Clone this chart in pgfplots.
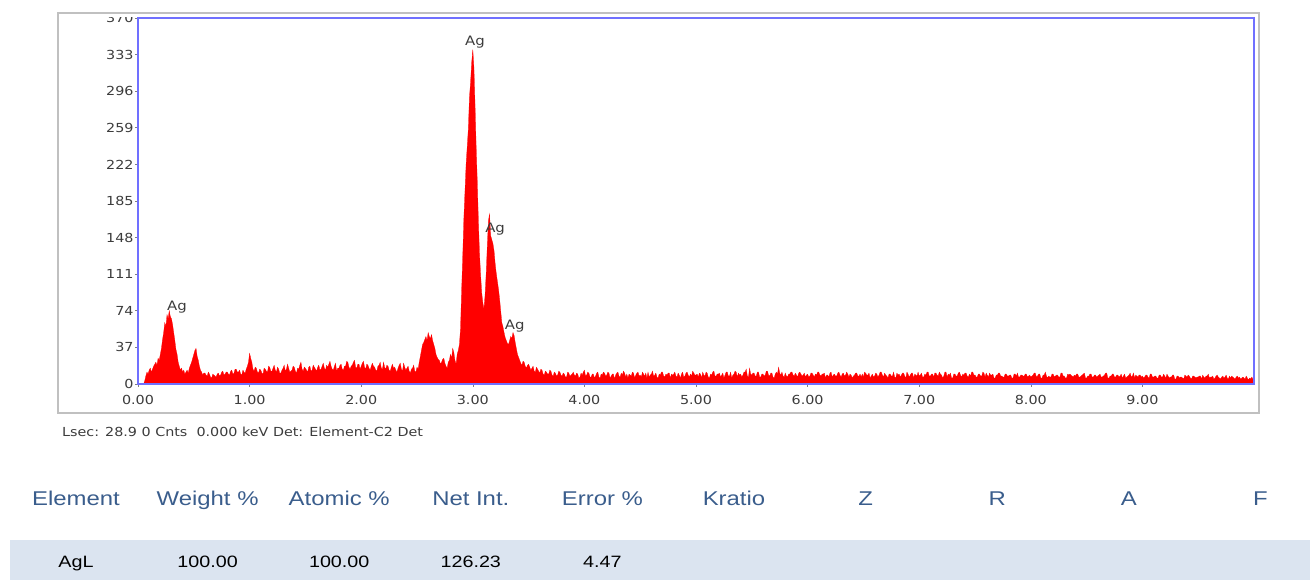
\documentclass[border=0pt]{standalone}
\usepackage{pgfplots}
\pgfplotsset{compat=1.18}
\usepackage{fontspec}
\setmainfont{DejaVu Sans}
\newfontfamily\chartfont[FakeStretch=1.15]{DejaVu Sans}
\newfontfamily\tablefont[FakeStretch=1.2]{Liberation Sans}
\definecolor{axisblue}{RGB}{112,112,255}
\definecolor{framegray}{RGB}{192,192,192}
\definecolor{ticktext}{RGB}{60,60,60}
\definecolor{headblue}{RGB}{58,93,140}
\definecolor{rowband}{RGB}{219,228,240}
\begin{document}
\begin{tikzpicture}[x=1bp,y=1bp]
\useasboundingbox (0,0) rectangle (1310,580);
% band behind the result row
\fill[rowband] (10,0) rectangle (1310,40);
\begin{axis}[
  at={(138bp,196bp)}, anchor=south west,
  scale only axis, width=1116bp, height=366bp,
  xmin=0, xmax=10, ymin=0, ymax=370,
  axis on top,
  axis line style={draw=axisblue, line width=1.6bp},
  tick pos=left, tick align=outside, major tick length=3bp,
  tick style={draw=gray, line width=0.6bp},
  xtick={0,1,2,3,4,5,6,7,8,9},
  xticklabels={0.00,1.00,2.00,3.00,4.00,5.00,6.00,7.00,8.00,9.00},
  ytick={0,37,74,111,148,185,222,259,296,333,370},
  yticklabels={0,37,74,111,148,185,222,259,296,333,370},
  ticklabel style={font=\chartfont\fontsize{12.5}{14}\selectfont, text=ticktext},
  x tick label style={yshift=-5bp},
  y tick label style={xshift=2bp},
]
% EDS spectrum, 0.01 keV per channel, from 0.00 to 10.00 keV
\addplot[draw=red, fill=red, line width=0.25bp]
  table[row sep=\\, x expr=\coordindex*0.01, y index=0] {
  counts\\
  0\\0\\0\\0\\0\\0\\3\\8\\12\\10\\ 14\\16\\12\\15\\18\\20\\22\\19\\26\\24\\
  30\\36\\45\\52\\62\\58\\70\\66\\74\\68\\ 66\\60\\52\\44\\35\\30\\22\\18\\14\\16\\
  12\\14\\10\\12\\14\\11\\16\\19\\22\\26\\ 30\\34\\36\\28\\24\\18\\14\\12\\9\\11\\
  11\\9\\8\\12\\10\\7\\6\\10\\9\\8\\ 7\\10\\11\\8\\9\\12\\13\\9\\10\\12\\
  12\\10\\9\\13\\14\\10\\11\\15\\15\\12\\ 12\\14\\10\\9\\14\\12\\11\\15\\18\\22\\
  31\\26\\22\\15\\13\\17\\16\\12\\11\\15\\ 14\\11\\10\\16\\15\\13\\12\\18\\17\\13\\
  13\\16\\19\\14\\12\\17\\15\\11\\11\\14\\ 16\\19\\13\\15\\20\\16\\12\\13\\14\\18\\
  17\\13\\11\\16\\15\\19\\22\\15\\13\\17\\ 16\\14\\12\\17\\18\\13\\14\\19\\17\\15\\
  13\\17\\19\\14\\15\\18\\21\\16\\14\\19\\ 17\\20\\23\\18\\15\\14\\18\\21\\13\\16\\
  16\\19\\20\\15\\14\\18\\18\\23\\22\\17\\ 15\\18\\19\\22\\24\\17\\16\\20\\20\\15\\
  18\\21\\23\\17\\15\\20\\19\\16\\14\\18\\ 21\\18\\17\\14\\13\\18\\19\\22\\16\\15\\
  22\\17\\15\\19\\18\\14\\13\\17\\20\\16\\ 17\\14\\12\\16\\19\\21\\15\\13\\21\\17\\
  14\\16\\18\\13\\11\\15\\16\\19\\13\\12\\ 17\\15\\22\\28\\34\\40\\42\\45\\48\\44\\
  52\\48\\46\\50\\44\\40\\36\\30\\27\\25\\ 24\\20\\22\\25\\26\\21\\18\\16\\22\\24\\
  30\\26\\36\\32\\24\\20\\30\\34\\40\\56\\ 95\\130\\168\\195\\222\\240\\258\\290\\305\\325\\
  338\\320\\282\\240\\205\\165\\132\\110\\92\\82\\ 76\\90\\112\\140\\165\\172\\150\\146\\142\\135\\
  122\\112\\104\\96\\86\\74\\62\\58\\52\\47\\ 44\\41\\40\\44\\48\\46\\52\\49\\42\\36\\
  30\\27\\24\\21\\19\\23\\22\\18\\16\\19\\ 20\\17\\14\\16\\18\\13\\12\\17\\15\\13\\
  11\\15\\14\\10\\9\\13\\12\\10\\10\\14\\ 13\\9\\8\\12\\11\\8\\9\\13\\12\\9\\
  8\\11\\10\\7\\7\\12\\11\\8\\9\\10\\ 12\\9\\8\\11\\10\\6\\7\\11\\9\\12\\
  14\\8\\9\\12\\11\\7\\7\\10\\10\\6\\ 8\\11\\12\\7\\6\\10\\9\\12\\11\\8\\
  9\\12\\11\\6\\8\\10\\10\\5\\9\\11\\ 12\\8\\7\\11\\9\\13\\11\\7\\10\\6\\
  10\\9\\8\\12\\11\\6\\9\\11\\12\\8\\ 9\\7\\12\\10\\8\\11\\6\\12\\7\\9\\
  10\\13\\8\\9\\11\\7\\6\\10\\9\\12\\ 12\\8\\7\\10\\9\\11\\11\\6\\10\\9\\
  10\\12\\8\\7\\11\\9\\6\\10\\12\\7\\ 8\\11\\12\\9\\7\\10\\8\\13\\11\\9\\
  9\\10\\7\\11\\10\\6\\12\\9\\8\\12\\ 11\\7\\6\\10\\9\\12\\13\\8\\8\\10\\
  10\\11\\7\\9\\11\\6\\9\\12\\12\\8\\ 8\\12\\6\\9\\10\\13\\12\\7\\11\\9\\
  10\\7\\9\\12\\12\\15\\8\\7\\16\\10\\ 9\\11\\11\\8\\8\\12\\12\\7\\7\\10\\
  10\\8\\9\\13\\13\\9\\8\\11\\11\\7\\ 6\\10\\12\\10\\17\\11\\9\\12\\8\\7\\
  11\\8\\7\\10\\10\\12\\12\\9\\8\\11\\ 9\\7\\11\\12\\10\\8\\9\\11\\7\\9\\
  10\\7\\8\\11\\11\\9\\7\\10\\9\\12\\ 12\\9\\8\\10\\10\\11\\6\\9\\9\\7\\
  11\\12\\7\\9\\10\\8\\8\\11\\12\\9\\ 7\\10\\11\\8\\9\\12\\10\\7\\10\\9\\
  6\\8\\9\\11\\11\\8\\8\\10\\7\\10\\ 7\\12\\11\\9\\9\\11\\6\\8\\10\\7\\
  8\\11\\10\\7\\9\\12\\12\\9\\7\\11\\ 9\\8\\6\\10\\10\\8\\8\\12\\7\\6\\
  11\\9\\10\\7\\9\\11\\11\\8\\6\\12\\ 10\\7\\9\\11\\11\\6\\10\\9\\8\\12\\
  8\\9\\11\\7\\7\\10\\9\\12\\12\\8\\ 8\\10\\10\\7\\11\\11\\9\\8\\12\\10\\
  9\\6\\8\\12\\12\\7\\10\\9\\11\\6\\ 6\\10\\10\\8\\8\\11\\12\\9\\7\\10\\
  9\\11\\11\\8\\7\\10\\8\\12\\12\\9\\ 9\\7\\7\\10\\10\\8\\8\\12\\11\\7\\
  11\\9\\7\\11\\9\\9\\10\\6\\6\\9\\ 9\\11\\11\\8\\8\\7\\7\\10\\10\\8\\
  8\\9\\9\\6\\6\\10\\10\\8\\11\\7\\ 7\\9\\9\\8\\8\\10\\10\\7\\8\\9\\
  7\\8\\9\\11\\11\\7\\8\\10\\10\\6\\ 6\\9\\9\\12\\8\\6\\8\\7\\7\\10\\
  10\\7\\8\\9\\9\\7\\7\\11\\11\\8\\ 8\\6\\6\\10\\9\\10\\9\\8\\7\\9\\
  8\\10\\10\\7\\7\\8\\9\\10\\11\\6\\ 6\\8\\8\\10\\10\\7\\7\\9\\9\\7\\
  8\\9\\10\\7\\7\\8\\9\\11\\11\\6\\ 6\\8\\8\\10\\10\\7\\7\\9\\9\\7\\
  8\\10\\6\\8\\10\\6\\7\\8\\9\\11\\ 7\\8\\11\\6\\9\\8\\7\\9\\9\\7\\
  8\\6\\7\\9\\9\\7\\6\\10\\10\\7\\ 7\\8\\8\\6\\6\\9\\9\\7\\7\\10\\
  8\\6\\10\\8\\6\\7\\7\\9\\9\\5\\ 5\\8\\8\\6\\7\\7\\6\\5\\9\\8\\
  7\\9\\8\\6\\5\\8\\8\\7\\6\\7\\ 7\\8\\8\\5\\9\\7\\6\\8\\8\\10\\
  6\\7\\7\\8\\5\\6\\8\\9\\7\\6\\ 5\\7\\8\\6\\7\\9\\6\\5\\8\\6\\
  8\\7\\6\\5\\7\\8\\6\\7\\5\\6\\ 7\\6\\5\\8\\6\\4\\6\\5\\7\\5\\
  4\\
  } \closedcycle;
\node[font=\chartfont\fontsize{13}{14}\selectfont, text=ticktext] at (axis cs:0.35,78) {Ag};
\node[font=\chartfont\fontsize{13}{14}\selectfont, text=ticktext] at (axis cs:3.02,346) {Ag};
\node[font=\chartfont\fontsize{13}{14}\selectfont, text=ticktext] at (axis cs:3.20,157) {Ag};
\node[font=\chartfont\fontsize{13}{14}\selectfont, text=ticktext] at (axis cs:3.375,59) {Ag};
\end{axis}
% upper edge of the display window cuts the top tick label
\fill[white] (95,563) rectangle (136,580);
\draw[framegray, line width=1.5bp] (58,167) rectangle (1259,567);
\node[anchor=west, inner sep=0pt, font=\chartfont\fontsize{12.5}{14}\selectfont, text=ticktext]
  at (62,148) {Lsec: 28.9 0 Cnts\ \ 0.000 keV Det: Element-C2 Det};
% quantification table
\foreach \t [count=\i from 0] in {Element,{Weight \%},{Atomic \%},{Net Int.},{Error \%},Kratio,Z,R,A,F}
  \node[anchor=base, font=\tablefont\fontsize{20}{24}\selectfont, text=headblue] at ({76+131.6*\i},74) {\t};
\foreach \t [count=\i from 0] in {AgL,100.00,100.00,126.23,4.47}
  \node[anchor=base, font=\tablefont\fontsize{16.5}{20}\selectfont, text=black] at ({76+131.6*\i},12) {\t};
\end{tikzpicture}
\end{document}
